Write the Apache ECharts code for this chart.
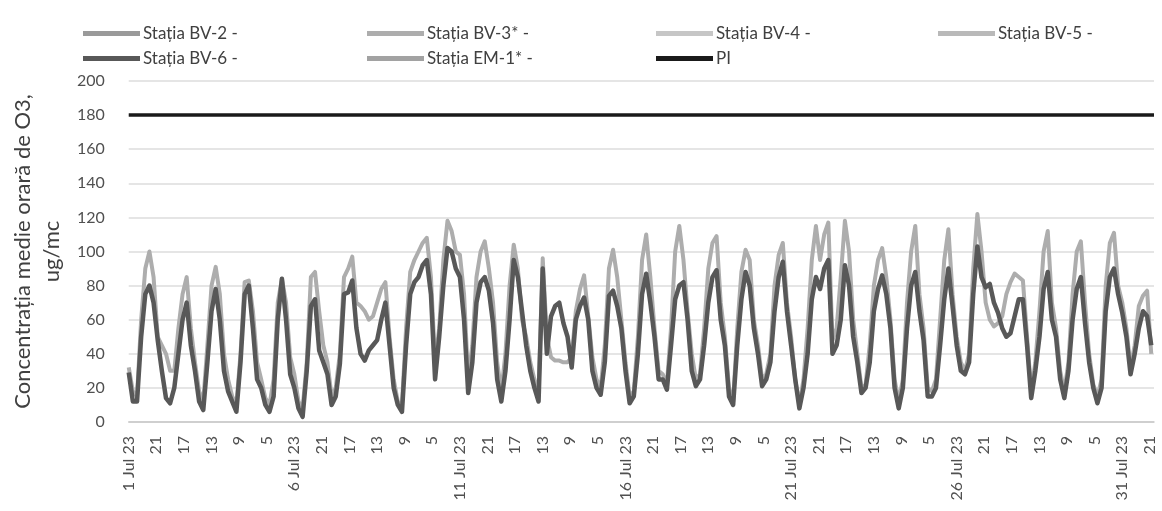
<!DOCTYPE html>
<html>
<head>
<meta charset="utf-8">
<script src="https://cdn.jsdelivr.net/npm/echarts@6/dist/echarts.min.js"></script>
<style>
html,body{margin:0;padding:0;background:#fff;}
#chart{width:1162px;height:511px;}
</style>
</head>
<body>
<div id="chart"></div>
<script>
// Hours of the day at which each day's values are read (8 readings per day, 1-31 July 2023)
const SAMPLE_HOURS = [1, 4, 7, 10, 13, 16, 19, 22];

// Stația BV-6 (dark line), one row per day
const BV6 = [
  29, 12, 12, 50, 75, 80, 70, 48,   // 1
  30, 14, 11, 20, 40, 60, 70, 45,   // 2
  30, 12, 7, 35, 65, 78, 60, 30,    // 3
  18, 12, 6, 35, 75, 80, 55, 25,    // 4
  20, 10, 6, 15, 60, 84, 60, 28,    // 5
  20, 8, 3, 30, 68, 72, 42, 35,     // 6
  28, 10, 15, 34, 75, 76, 83, 55,   // 7
  40, 36, 42, 45, 48, 60, 70, 45,   // 8
  20, 10, 6, 45, 75, 82, 85, 92,    // 9
  95, 75, 25, 50, 80, 102, 100, 90, // 10
  85, 60, 17, 35, 70, 82, 85, 77,   // 11
  58, 25, 12, 30, 60, 95, 85, 65,   // 12
  45, 30, 20, 12, 90, 40, 62, 68,   // 13
  70, 58, 50, 32, 60, 68, 73, 60,   // 14
  30, 20, 16, 35, 74, 77, 68, 55,   // 15
  30, 11, 15, 40, 75, 87, 70, 50,   // 16
  25, 25, 19, 45, 72, 80, 82, 60,   // 17
  30, 21, 25, 45, 70, 85, 89, 60,   // 18
  45, 15, 10, 45, 72, 88, 80, 55,   // 19
  40, 21, 25, 35, 65, 85, 94, 65,   // 20
  45, 25, 8, 20, 40, 72, 85, 78,    // 21
  90, 95, 40, 45, 60, 92, 80, 50,   // 22
  35, 17, 20, 35, 65, 78, 86, 75,   // 23
  55, 20, 8, 20, 55, 80, 88, 65,    // 24
  48, 15, 15, 20, 45, 72, 90, 68,   // 25
  45, 30, 28, 35, 75, 103, 85, 79,  // 26
  81, 70, 64, 55, 50, 52, 62, 72,   // 27
  72, 45, 14, 30, 50, 78, 88, 60,   // 28
  50, 25, 14, 30, 60, 78, 85, 58,   // 29
  35, 20, 11, 20, 65, 85, 90, 75,   // 30
  64, 50, 28, 40, 55, 65, 62, 45    // 31
];

// Stația BV-3* (light line, highest peaks), one row per day
const BV3 = [
  32, 18, 15, 60, 90, 100, 85, 50,    // 1
  45, 40, 30, 30, 55, 75, 85, 55,     // 2
  35, 18, 12, 45, 80, 91, 75, 40,     // 3
  25, 15, 10, 40, 82, 83, 65, 35,     // 4
  25, 14, 10, 25, 70, 84, 70, 38,     // 5
  28, 12, 8, 35, 85, 88, 65, 45,      // 6
  35, 15, 20, 40, 85, 90, 97, 70,     // 7
  68, 65, 60, 62, 70, 78, 82, 50,     // 8
  25, 12, 10, 55, 88, 95, 100, 105,   // 9
  108, 85, 35, 55, 95, 118, 112, 100, // 10
  98, 75, 25, 45, 85, 100, 106, 90,   // 11
  70, 35, 18, 40, 80, 104, 90, 60,    // 12
  50, 35, 25, 18, 96, 50, 38, 36,     // 13
  36, 35, 35, 38, 65, 78, 86, 62,     // 14
  38, 25, 20, 45, 90, 101, 85, 60,    // 15
  35, 15, 18, 50, 95, 110, 85, 55,    // 16
  30, 28, 22, 55, 100, 115, 95, 65,   // 17
  40, 25, 28, 55, 90, 105, 109, 70,   // 18
  50, 20, 12, 55, 88, 101, 95, 60,    // 19
  45, 25, 28, 40, 80, 98, 105, 70,    // 20
  50, 25, 10, 25, 55, 95, 115, 95,    // 21
  110, 117, 48, 55, 85, 118, 100, 60, // 22
  40, 20, 22, 45, 80, 95, 102, 85,    // 23
  60, 25, 12, 25, 70, 100, 115, 75,   // 24
  55, 20, 18, 25, 60, 95, 113, 75,    // 25
  50, 35, 30, 40, 90, 122, 100, 70,   // 26
  60, 56, 58, 62, 75, 82, 87, 85,     // 27
  83, 50, 18, 35, 65, 100, 112, 70,   // 28
  55, 30, 18, 35, 75, 100, 106, 70,   // 29
  40, 22, 15, 25, 80, 105, 111, 80,   // 30
  70, 55, 32, 45, 68, 74, 77, 40      // 31
];

// Stations with no readable trace in the picture
const BV2 = [];
const BV4 = [];
const BV5 = [];
const EM1 = [];

// Prag de informare (PI)
const PI_LIMIT = 180;

const DAYS = 31;
const MONTH_LABEL = 'Jul';
const YEAR_LABEL = '23';
const LABEL_STEP_HOURS = 20;
const Y_MIN = 0, Y_MAX = 200, Y_STEP = 20;

const LAST_HOUR_INDEX = DAYS * 24 - 1;

function toPoints(values) {
  return values.map((v, i) => [Math.floor(i / SAMPLE_HOURS.length) * 24 + SAMPLE_HOURS[i % SAMPLE_HOURS.length] - 1, v]);
}
function hourLabel(idx) {
  const day = Math.floor(idx / 24) + 1;
  const hour = idx % 24 + 1;
  return hour === 1 ? day + ' ' + MONTH_LABEL + ' ' + YEAR_LABEL : String(hour);
}

const FONT = 'Lato';
const chart = echarts.init(document.getElementById('chart'), null, { renderer: 'canvas' });

const seriesDefs = [
  { name: 'Stația BV-2 -', data: BV2, color: '#9a9a9a', width: 4 },
  { name: 'Stația BV-3* -', data: BV3, color: '#adadad', width: 4 },
  { name: 'Stația BV-4 -', data: BV4, color: '#c6c6c6', width: 4 },
  { name: 'Stația BV-5 -', data: BV5, color: '#b9b9b9', width: 4 },
  { name: 'Stația EM-1* -', data: EM1, color: '#a2a2a2', width: 4 },
  { name: 'Stația BV-6 -', data: BV6, color: '#585858', width: 4.5 }
];

const series = seriesDefs.map(s => ({
  name: s.name,
  type: 'line',
  data: toPoints(s.data),
  showSymbol: false,
  symbol: 'none',
  lineStyle: { color: s.color, width: s.width, join: 'round' },
  itemStyle: { color: s.color },
  animation: false
}));
series.push({
  name: 'PI',
  type: 'line',
  data: [[0, PI_LIMIT], [LAST_HOUR_INDEX, PI_LIMIT]],
  showSymbol: false,
  symbol: 'none',
  lineStyle: { color: '#1a1a1a', width: 3.5 },
  itemStyle: { color: '#1a1a1a' },
  animation: false
});

const legendPos = [
  ['Stația BV-2 -', 78, 20], ['Stația BV-3* -', 362, 20], ['Stația BV-4 -', 651, 20], ['Stația BV-5 -', 933, 20],
  ['Stația BV-6 -', 78, 45], ['Stația EM-1* -', 362, 45], ['PI', 651, 45]
];
const legends = legendPos.map(([n, x, y]) => ({
  data: [n], left: x, top: y, icon: 'rect', itemWidth: 57, itemHeight: 5, itemGap: 3,
  selectedMode: false,
  textStyle: { fontFamily: FONT, fontSize: 17, color: '#404040', padding: [0, 0, 0, -2] }
}));

chart.setOption({
  backgroundColor: '#ffffff',
  animation: false,
  legend: legends,
  grid: { left: 117, right: 8, top: 81, bottom: 89, containLabel: false },
  xAxis: {
    type: 'value',
    min: 0,
    max: LAST_HOUR_INDEX,
    interval: LABEL_STEP_HOURS,
    axisLine: { show: true, onZero: true, lineStyle: { color: '#c8c8c8', width: 1.5 } },
    axisTick: { show: false },
    splitLine: { show: false },
    axisLabel: {
      rotate: 90, fontFamily: FONT, fontSize: 16, color: '#505050', margin: 14,
      showMaxLabel: false,
      formatter: v => (v % LABEL_STEP_HOURS === 0 ? hourLabel(v) : '')
    }
  },
  yAxis: {
    type: 'value',
    min: Y_MIN, max: Y_MAX, interval: Y_STEP,
    axisLine: { show: false },
    axisTick: { show: false },
    splitLine: { lineStyle: { color: '#dcdcdc', width: 1.5 } },
    axisLabel: { fontFamily: FONT, fontSize: 16, color: '#505050', margin: 24 },
    name: 'Concentrația medie orară de O3,\nug/mc',
    nameLocation: 'middle',
    nameRotate: 90,
    nameGap: 54,
    nameTextStyle: { fontFamily: FONT, fontSize: 22, color: '#404040', lineHeight: 29 }
  },
  series: series
});
</script>
</body>
</html>
